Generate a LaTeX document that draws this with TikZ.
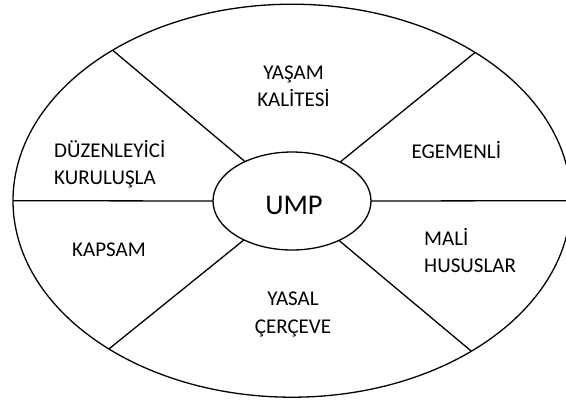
\documentclass[tikz,border=0pt]{standalone}
\usepackage{fontspec}
\setmainfont{Carlito}
\usetikzlibrary{shapes.geometric}
\begin{document}
\begin{tikzpicture}[x=1pt,y=-1pt,
  ring/.style={draw,ellipse,line width=1.3pt,inner sep=0pt,outer sep=0pt},
  spoke/.style={line width=1.3pt},
  lbl/.style={font=\fontsize{21}{27.5}\selectfont,inner sep=0pt,anchor=base},
  big/.style={font=\fontsize{28.5}{32}\selectfont,inner sep=0pt,anchor=base}]
\useasboundingbox (0,0) rectangle (566,400);
\node[ring,minimum width=558pt,minimum height=393pt] (outer) at (292,200.7) {};
\node[ring,minimum width=158pt,minimum height=98pt] (inner) at (292,201) {};
\node[big] (ump) at (294,214) {UMP};
\foreach \a in {0,39.4,140.6,180,219.4,320.6}
  \draw[spoke] (inner.\a) -- (outer.\a);
\node[lbl,align=center] (ysm) at (293.5,106.5) {YAŞAM\\KALİTESİ};
\node[lbl,align=left,anchor=base west] (dz) at (54,184.5) {DÜZENLEYİCİ\\KURULUŞLA};
\node[lbl,anchor=base west] (egm) at (411.5,158.3) {EGEMENLİ};
\node[lbl,anchor=base west] (kps) at (72,256) {KAPSAM};
\node[lbl,align=left,anchor=base west] (mali) at (424,272.5) {MALİ\\HUSUSLAR};
\node[lbl,align=center] (ysl) at (293,333.2) {YASAL\\ÇERÇEVE};
\end{tikzpicture}
\end{document}
